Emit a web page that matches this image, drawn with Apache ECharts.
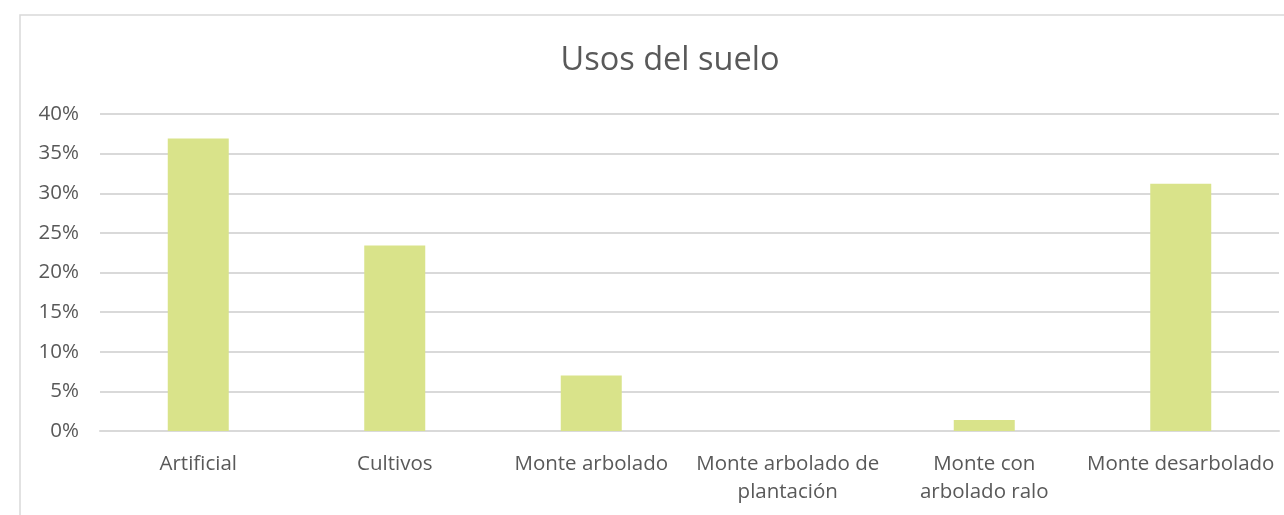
<!DOCTYPE html>
<html>
<head>
<meta charset="utf-8">
<script src="https://cdn.jsdelivr.net/npm/echarts@6/dist/echarts.min.js"></script>
<style>
html,body{margin:0;padding:0;background:#fff;}
#c{width:1284px;height:515px;}
</style>
</head>
<body>
<div id="c"></div>
<script>
var categories = ['Artificial', 'Cultivos', 'Monte arbolado', 'Monte arbolado de plantación', 'Monte con arbolado ralo', 'Monte desarbolado'];
var tickLabels = ['Artificial', 'Cultivos', 'Monte arbolado', 'Monte arbolado de\nplantación', 'Monte con\narbolado ralo', 'Monte desarbolado'];
var values = [36.9, 23.4, 7.0, 0, 1.4, 31.2];

var chart = echarts.init(document.getElementById('c'), null, {renderer: 'canvas'});
var font = '"Open Sans", Lato, sans-serif';
chart.setOption({
  animation: false,
  backgroundColor: '#ffffff',
  title: {
    text: 'Usos del suelo',
    left: 665, top: 39, textAlign: 'center',
    textStyle: {fontFamily: font, fontSize: 32.5, fontWeight: 'normal', color: '#595959'}
  },
  graphic: [{
    type: 'rect', shape: {x: 20, y: 15, width: 1300, height: 600},
    style: {fill: 'none', stroke: '#d9d9d9', lineWidth: 1.5}, silent: true, z: -1
  }],
  grid: {left: 100, right: 5, top: 114, bottom: 84, containLabel: false},
  xAxis: {
    type: 'category',
    data: categories,
    axisLine: {show: true, lineStyle: {color: '#d9d9d9', width: 2}},
    axisTick: {show: false},
    axisLabel: {
      interval: 0, margin: 19, color: '#595959', fontFamily: font, fontSize: 20.5, lineHeight: 28,
      formatter: function (v, i) { return tickLabels[i]; }
    }
  },
  yAxis: {
    type: 'value', min: 0, max: 40, interval: 5,
    axisLine: {show: false}, axisTick: {show: false},
    splitLine: {lineStyle: {color: '#d9d9d9', width: 2}},
    axisLabel: {formatter: '{value}%', margin: 21, color: '#595959', fontFamily: font, fontSize: 20.5}
  },
  series: [{
    type: 'bar', data: values, barWidth: 61,
    itemStyle: {color: '#d9e38a'}
  }]
});
</script>
</body>
</html>
